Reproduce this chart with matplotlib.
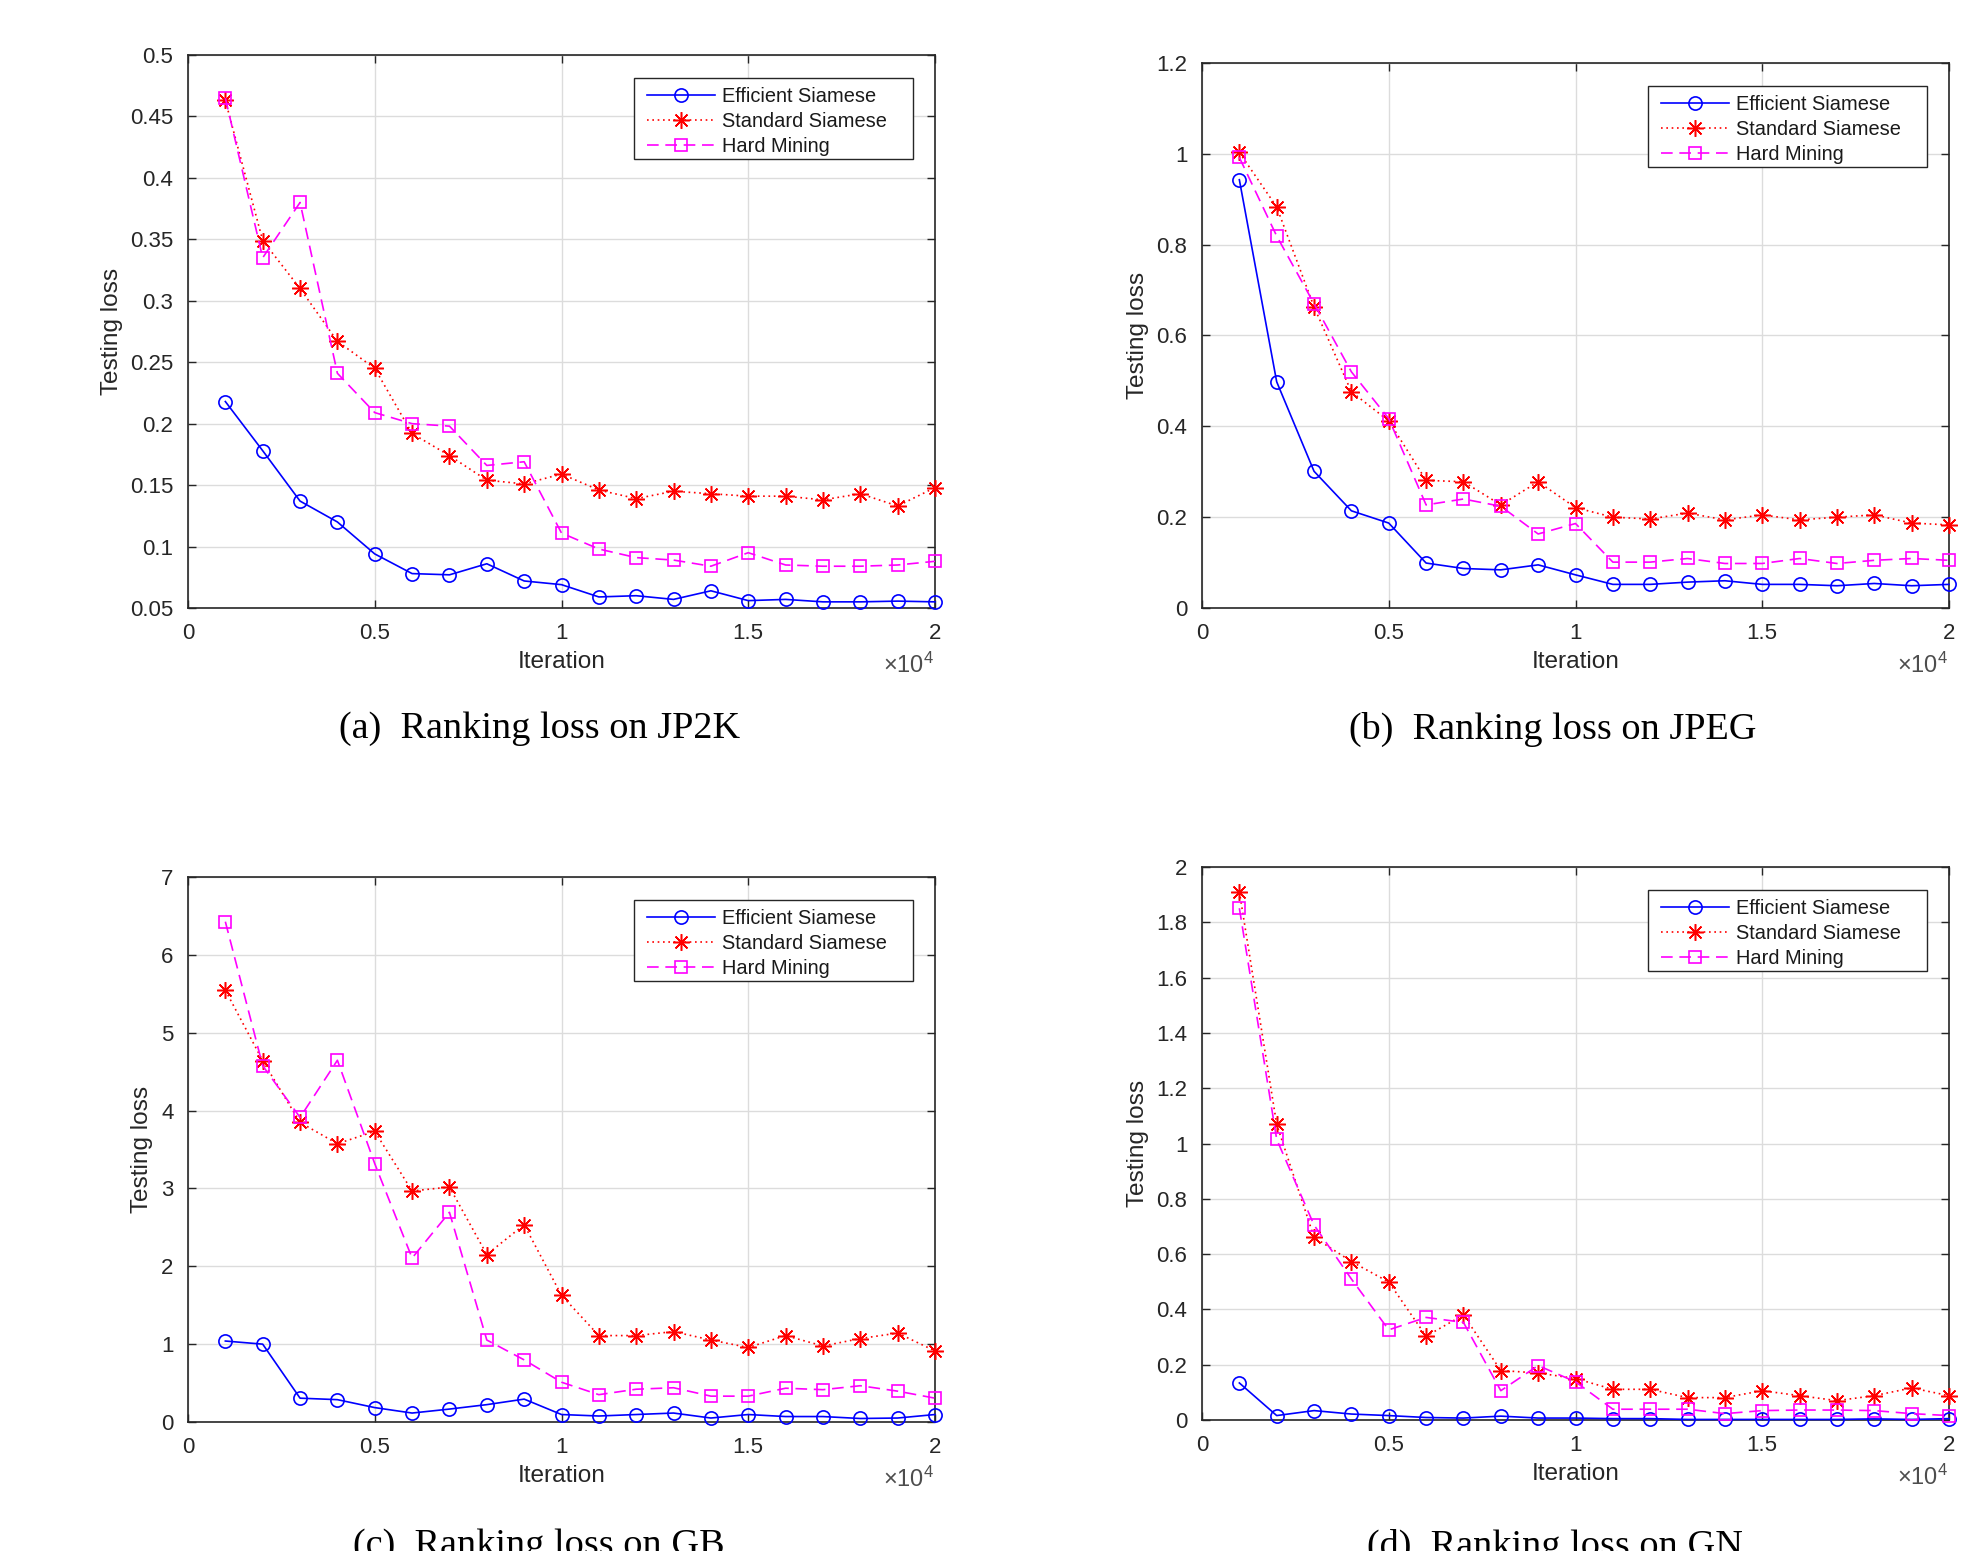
import numpy as np
import matplotlib
matplotlib.use("Agg")
import matplotlib.pyplot as plt
from matplotlib.patches import Rectangle
from matplotlib.lines import Line2D

# ---------------- data ----------------
iterations = [1000, 2000, 3000, 4000, 5000, 6000, 7000, 8000, 9000, 10000,
              11000, 12000, 13000, 14000, 15000, 16000, 17000, 18000, 19000, 20000]

series_names = ["Efficient Siamese", "Standard Siamese", "Hard Mining"]

jp2k_efficient = [0.218, 0.178, 0.137, 0.120, 0.094, 0.078, 0.077, 0.086, 0.072, 0.069,
                  0.059, 0.060, 0.057, 0.064, 0.056, 0.057, 0.055, 0.055, 0.0556, 0.055]
jp2k_standard = [0.463, 0.349, 0.310, 0.267, 0.245, 0.192, 0.174, 0.154, 0.151, 0.159,
                 0.146, 0.139, 0.145, 0.143, 0.141, 0.141, 0.138, 0.143, 0.133, 0.148]
jp2k_hard = [0.465, 0.335, 0.380, 0.241, 0.209, 0.200, 0.198, 0.166, 0.169, 0.111,
             0.098, 0.091, 0.089, 0.084, 0.095, 0.085, 0.084, 0.084, 0.085, 0.088]

jpeg_efficient = [0.943, 0.498, 0.301, 0.214, 0.187, 0.099, 0.087, 0.084, 0.095, 0.073,
                  0.052, 0.052, 0.057, 0.060, 0.052, 0.052, 0.049, 0.054, 0.049, 0.052]
jpeg_standard = [1.003, 0.883, 0.663, 0.476, 0.412, 0.281, 0.278, 0.227, 0.278, 0.221,
                 0.200, 0.196, 0.209, 0.194, 0.205, 0.194, 0.200, 0.205, 0.187, 0.183]
jpeg_hard = [0.992, 0.819, 0.670, 0.520, 0.417, 0.227, 0.240, 0.224, 0.163, 0.186,
             0.101, 0.101, 0.109, 0.098, 0.098, 0.109, 0.098, 0.105, 0.109, 0.105]

gb_efficient = [1.04, 1.00, 0.306, 0.287, 0.185, 0.115, 0.166, 0.223, 0.294, 0.096,
                0.077, 0.096, 0.115, 0.051, 0.096, 0.070, 0.070, 0.045, 0.051, 0.096]
gb_standard = [5.546, 4.64, 3.848, 3.574, 3.733, 2.967, 3.018, 2.151, 2.534, 1.627,
               1.110, 1.110, 1.161, 1.053, 0.957, 1.110, 0.976, 1.072, 1.142, 0.913]
gb_hard = [6.426, 4.576, 3.912, 4.646, 3.318, 2.106, 2.693, 1.053, 0.798, 0.511,
           0.351, 0.421, 0.440, 0.332, 0.332, 0.434, 0.415, 0.466, 0.396, 0.306]

gn_efficient = [0.134, 0.016, 0.034, 0.0215, 0.016, 0.009, 0.007, 0.014, 0.007, 0.007,
                0.005, 0.005, 0.002, 0.002, 0.002, 0.002, 0.002, 0.004, 0.002, 0.005]
gn_standard = [1.911, 1.069, 0.661, 0.573, 0.499, 0.303, 0.380, 0.179, 0.170, 0.150,
               0.111, 0.111, 0.081, 0.081, 0.106, 0.088, 0.070, 0.088, 0.116, 0.088]
gn_hard = [1.851, 1.015, 0.705, 0.510, 0.326, 0.371, 0.353, 0.106, 0.197, 0.138,
           0.039, 0.039, 0.039, 0.023, 0.034, 0.036, 0.036, 0.034, 0.023, 0.016]

x_ticks = [0, 5000, 10000, 15000, 20000]
x_ticklabels = ["0", "0.5", "1", "1.5", "2"]

jp2k_yticks = [0.05, 0.1, 0.15, 0.2, 0.25, 0.3, 0.35, 0.4, 0.45, 0.5]
jp2k_yticklabels = ["0.05", "0.1", "0.15", "0.2", "0.25", "0.3", "0.35", "0.4", "0.45", "0.5"]
jpeg_yticks = [0, 0.2, 0.4, 0.6, 0.8, 1.0, 1.2]
jpeg_yticklabels = ["0", "0.2", "0.4", "0.6", "0.8", "1", "1.2"]
gb_yticks = [0, 1, 2, 3, 4, 5, 6, 7]
gb_yticklabels = ["0", "1", "2", "3", "4", "5", "6", "7"]
gn_yticks = [0, 0.2, 0.4, 0.6, 0.8, 1.0, 1.2, 1.4, 1.6, 1.8, 2.0]
gn_yticklabels = ["0", "0.2", "0.4", "0.6", "0.8", "1", "1.2", "1.4", "1.6", "1.8", "2"]

captions = ["(a)  Ranking loss on JP2K", "(b)  Ranking loss on JPEG",
            "(c)  Ranking loss on GB", "(d)  Ranking loss on GN"]

# ---------------- style ----------------
W, H = 1978, 1551
DPI = 100
plt.rcParams["font.family"] = ["Liberation Sans", "DejaVu Sans"]
plt.rcParams["mathtext.fontset"] = "custom"
plt.rcParams["mathtext.rm"] = "Liberation Sans"
plt.rcParams["mathtext.default"] = "regular"

AX_COL = "#262626"
GRID_COL = "#dcdcdc"
TICK_FS = 16
LEG_FS = 14.4
LAB_FS = 17.6
CAP_FS = 27.5
PX = 72.0 / DPI  # points per pixel

fig = plt.figure(figsize=(W / DPI, H / DPI), dpi=DPI)

# axes boxes in pixels: left, right, top, bottom
boxes = [(188, 935, 55, 608), (1202, 1949, 63, 608),
         (188, 935, 877, 1422), (1202, 1949, 867, 1420)]
panels = [
    (jp2k_efficient, jp2k_standard, jp2k_hard, jp2k_yticks, jp2k_yticklabels),
    (jpeg_efficient, jpeg_standard, jpeg_hard, jpeg_yticks, jpeg_yticklabels),
    (gb_efficient, gb_standard, gb_hard, gb_yticks, gb_yticklabels),
    (gn_efficient, gn_standard, gn_hard, gn_yticks, gn_yticklabels),
]
caption_pos = [(540, 729), (1553, 729), (539, 1546), (1555, 1546)]

asterisk = (8, 2, 0)
LW = 1.2

for (l, r, t, b), (eff, std, hard, yt, ytl), cap, cpos in zip(boxes, panels, captions, caption_pos):
    ax = fig.add_axes([l / W, 1 - b / H, (r - l) / W, (b - t) / H])
    ax.plot(iterations, eff, color="#0000ff", linestyle="-", linewidth=LW,
            marker="o", markersize=9.5, markerfacecolor="none", markeredgewidth=1.2,
            clip_on=False, zorder=3, label=series_names[0])
    ax.plot(iterations, std, color="#ff0000", linestyle=(0, (1, 2.2)), linewidth=LW,
            marker=asterisk, markersize=12, markeredgewidth=1.1,
            clip_on=False, zorder=3, label=series_names[1])
    ax.plot(iterations, hard, color="#ff00ff", linestyle=(0, (7, 4)), linewidth=LW,
            marker="s", markersize=8, markerfacecolor="none", markeredgewidth=1.2,
            clip_on=False, zorder=3, label=series_names[2])

    ax.set_xlim(0, 20000)
    ax.set_ylim(yt[0], yt[-1])
    ax.set_xticks(x_ticks)
    ax.set_xticklabels(x_ticklabels)
    ax.set_yticks(yt)
    ax.set_yticklabels(ytl)
    ax.grid(True, color=GRID_COL, linewidth=1.0)
    ax.set_axisbelow(True)
    ax.tick_params(direction="in", length=5.5, width=1.0, top=True, right=True,
                   colors=AX_COL, labelsize=TICK_FS, pad=10.5)
    for s in ax.spines.values():
        s.set_color(AX_COL)
        s.set_linewidth(1.2)
    ax.set_xlabel("Iteration", fontsize=LAB_FS, color=AX_COL, labelpad=5.5)
    ax.set_ylabel("Testing loss", fontsize=LAB_FS, color=AX_COL, labelpad=5.4)

    # exponent label
    ax.annotate(r"$\times\mathregular{10^{4}}$", xy=(1, 0), xycoords="axes fraction",
                xytext=(-1 * PX, -57 * PX), textcoords="offset points",
                ha="right", va="center", fontsize=TICK_FS + 1, color="#4d4d4d")

    # legend frame (pixel geometry as in reference)
    fx0, fx1 = r - 22 - 279, r - 22
    fy0, fy1 = t + 22.5, t + 22.5 + 81
    frame = Rectangle((fx0 / W, 1 - fy1 / H), 279 / W, 81 / H, transform=fig.transFigure,
                      facecolor="white", edgecolor=AX_COL, linewidth=1.0, zorder=4.8,
                      clip_on=False)
    ax.add_patch(frame)
    handles = [
        Line2D([], [], color="#0000ff", linestyle="-", linewidth=LW, marker="o",
               markersize=9.5, markerfacecolor="none", markeredgewidth=1.2),
        Line2D([], [], color="#ff0000", linestyle=(0, (1, 2.2)), linewidth=LW,
               marker=asterisk, markersize=12, markeredgewidth=1.1),
        Line2D([], [], color="#ff00ff", linestyle=(0, (7, 4)), linewidth=LW, marker="s",
               markersize=8, markerfacecolor="none", markeredgewidth=1.2),
    ]
    leg = ax.legend(handles, series_names, loc="upper left",
                    bbox_to_anchor=((fx0 + 13) / W, 1 - (fy0 + 9.5) / H),
                    bbox_transform=fig.transFigure, frameon=False, borderpad=0,
                    borderaxespad=0, fontsize=LEG_FS, handlelength=3.4,
                    handletextpad=0.35, labelspacing=0.3)
    leg.set_zorder(5)
    for txt in leg.get_texts():
        txt.set_color("#1a1a1a")

    fig.text(cpos[0] / W, 1 - cpos[1] / H, cap, ha="center", va="center",
             fontsize=CAP_FS, family=["Liberation Serif", "DejaVu Serif"], color="black")

fig.savefig("out.png", dpi=DPI)
